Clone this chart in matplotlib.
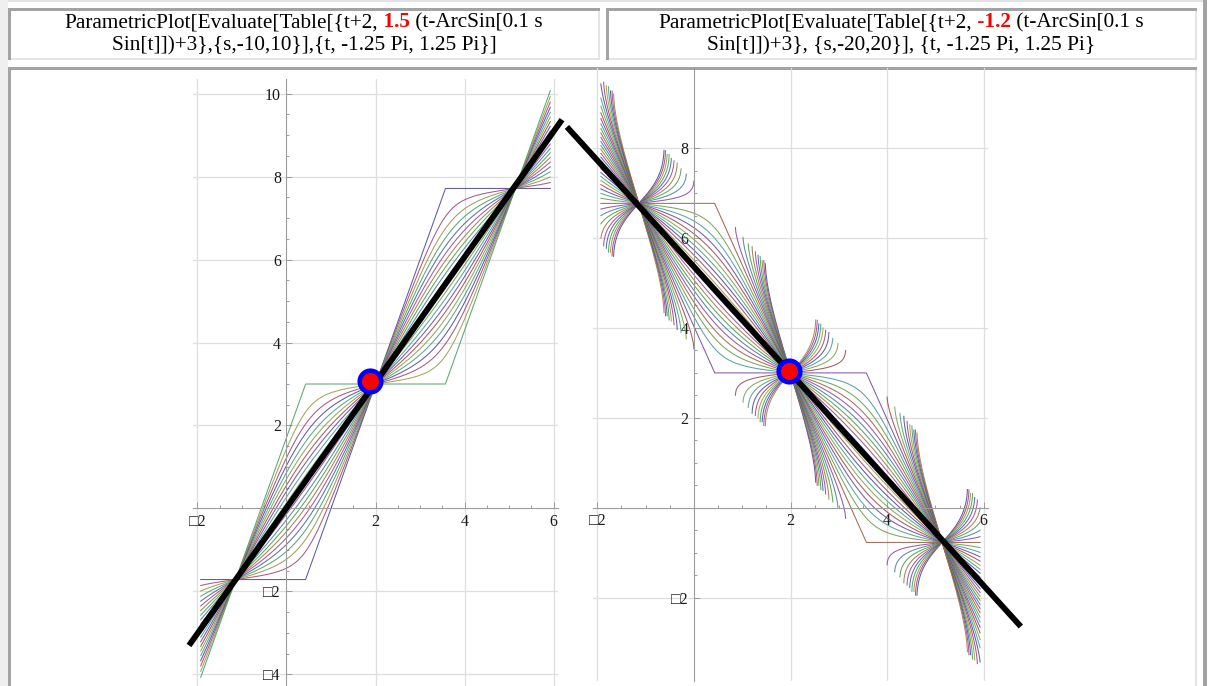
import numpy as np
import matplotlib.pyplot as plt
from matplotlib.patches import Rectangle
from matplotlib.colors import hsv_to_rgb
from matplotlib.offsetbox import TextArea, HPacker, AnnotationBbox

plt.rcParams['font.family'] = ['Liberation Serif', 'DejaVu Sans']

W, H = 1208, 686

# the two curve families, as printed in the headers
T_RANGE = (-1.25 * np.pi, 1.25 * np.pi)
K_LEFT, S_LEFT = 1.5, np.arange(-10, 11)
K_RIGHT, S_RIGHT = -1.2, np.arange(-20, 21)

# hand drawn overlay (black line + dot)
LINE_LEFT_X, LINE_LEFT_Y = [-2.19, 6.19], [-3.30, 9.37]
LINE_RIGHT_X, LINE_RIGHT_Y = [-2.63, 6.77], [8.47, -2.64]
DOT_LEFT = (1.88, 3.08)
DOT_RIGHT = (1.97, 3.04)

XTICKS = [-2, 2, 4, 6]
YTICKS_LEFT = [-4, -2, 2, 4, 6, 8, 10]
YTICKS_RIGHT = [-2, 2, 4, 6, 8]

HEAD_LEFT_1 = ["ParametricPlot[Evaluate[Table[{t+2,", " 1.5", " (t-ArcSin[0.1 s"]
HEAD_LEFT_2 = "Sin[t]])+3},{s,-10,10}],{t, -1.25 Pi, 1.25 Pi}]"
HEAD_RIGHT_1 = ["ParametricPlot[Evaluate[Table[{t+2,", " -1.2", " (t-ArcSin[0.1 s"]
HEAD_RIGHT_2 = "Sin[t]])+3}, {s,-20,20}], {t, -1.25 Pi, 1.25 Pi}"

DARK, LIGHT = '#a3a3a3', '#e4e4e4'
HEAD_SIZE = 15.3


def mma_color(i):
    # old Mathematica default plot colours: golden-ratio hue steps
    h = (0.67 + 0.236068 * i) % 1.0
    return hsv_to_rgb((h, 0.6, 0.6))


def tick_label(v):
    # the minus sign shows up as a missing-glyph box in the page
    return '\u25a1' + str(-v) if v < 0 else str(v)


fig = plt.figure(figsize=(W / 100, H / 100), dpi=100)
fig.patch.set_facecolor('white')

# page background drawn in pixel coordinates (y down)
bg = fig.add_axes([0, 0, 1, 1])
bg.set_xlim(0, W)
bg.set_ylim(H, 0)
bg.axis('off')
bg.add_patch(Rectangle((0, 0), 8, H, color='#efefef', lw=0))
bg.add_patch(Rectangle((8, 0), 1195, 2, color='#e2e2e2', lw=0))
bg.add_patch(Rectangle((1203, 0), 4, H, color=DARK, lw=0))


def cell(x0, y0, x1, y1):
    bg.add_patch(Rectangle((x0, y0), x1 - x0, y1 - y0, color='white', lw=0))
    bg.add_patch(Rectangle((x0, y1 - 2), x1 - x0, 2, color=LIGHT, lw=0))
    bg.add_patch(Rectangle((x1 - 2, y0), 2, y1 - y0, color=LIGHT, lw=0))
    bg.add_patch(Rectangle((x0, y0), x1 - x0, 2.5, color=DARK, lw=0))
    bg.add_patch(Rectangle((x0, y0), 2.5, y1 - y0, color=DARK, lw=0))


cell(8, 8, 600, 60)
cell(606, 8, 1197, 60)
cell(8, 67, 1197, H + 10)


def header(cx, pieces, line2):
    areas = []
    for i, txt in enumerate(pieces):
        if i == 1:
            props = dict(color='#ff0000', fontweight='bold', fontsize=HEAD_SIZE)
        else:
            props = dict(color='black', fontsize=HEAD_SIZE)
        areas.append(TextArea(txt, textprops=props))
    box = HPacker(children=areas, align='baseline', pad=0, sep=0)
    ab = AnnotationBbox(box, (cx, H - 22), xycoords='figure pixels',
                        frameon=False, box_alignment=(0.5, 0.5), pad=0)
    fig.add_artist(ab)
    fig.text(cx / W, 1 - 46 / H, line2, ha='center', va='center',
             fontsize=HEAD_SIZE, color='black')


header(304, HEAD_LEFT_1, HEAD_LEFT_2)
header(901, HEAD_RIGHT_1, HEAD_RIGHT_2)


def family_plot(px, xlim, ylim, k, svals, yticks, line_x, line_y, dot):
    left, right, top, bottom = px
    ax = fig.add_axes([left / W, 1 - bottom / H, (right - left) / W, (bottom - top) / H])
    ax.set_facecolor('none')
    t = np.linspace(T_RANGE[0], T_RANGE[1], 4001)
    for i, s in enumerate(svals):
        with np.errstate(invalid='ignore'):
            y = k * (t - np.arcsin(0.1 * s * np.sin(t))) + 3
        ax.plot(t + 2, y, color=mma_color(i), lw=0.75, alpha=0.85)

    ax.plot(line_x, line_y, color='black', lw=4.2, solid_capstyle='butt',
            clip_on=False, zorder=5)
    ax.plot(*dot, marker='o', ms=15.5, mfc='#ff0000', mec='#0000ff', mew=3.3,
            clip_on=False, zorder=6)

    ax.set_xlim(*xlim)
    ax.set_ylim(*ylim)
    for side in ['top', 'right']:
        ax.spines[side].set_visible(False)
    for side in ['left', 'bottom']:
        ax.spines[side].set_position(('data', 0))
        ax.spines[side].set_color('#9c9c9c')
        ax.spines[side].set_linewidth(0.8)

    ax.set_xticks(XTICKS)
    ax.set_xticklabels([tick_label(v) for v in XTICKS])
    ax.set_yticks(yticks)
    ax.set_yticklabels([tick_label(v) for v in yticks])
    ax.set_xticks(np.arange(-2, 6.01, 0.5), minor=True)
    ax.set_yticks(np.arange(min(yticks), max(yticks) + 0.01, 0.5), minor=True)
    ax.tick_params(which='both', direction='in', color='#9c9c9c', width=0.7,
                   labelsize=11.5, labelcolor='#1a1a1a')
    ax.tick_params(which='major', length=4)
    ax.tick_params(which='minor', length=2.5)
    ax.tick_params(axis='x', pad=4)
    ax.tick_params(axis='y', pad=4)
    ax.grid(True, color='#dedede', lw=0.9)
    ax.set_axisbelow(True)
    return ax


family_plot((193, 558, 79, 689), (-2.1, 6.1), (-4.35, 10.35), K_LEFT, S_LEFT,
            YTICKS_LEFT, LINE_LEFT_X, LINE_LEFT_Y, DOT_LEFT)
family_plot((593, 988, 68, 681.4), (-2.09, 6.09), (-3.86, 9.78), K_RIGHT, S_RIGHT,
            YTICKS_RIGHT, LINE_RIGHT_X, LINE_RIGHT_Y, DOT_RIGHT)

fig.savefig('out.png', dpi=100)
